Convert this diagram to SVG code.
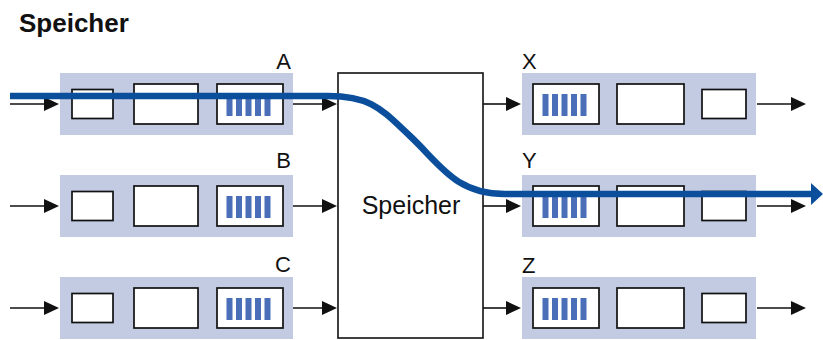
<svg xmlns="http://www.w3.org/2000/svg" xmlns:xlink="http://www.w3.org/1999/xlink" width="823" height="340" viewBox="0 0 823 340">
<style>
.panel{fill:#c3cbe3}
.box{fill:#fff;stroke:#111;stroke-width:1.7}
.stripe{fill:#4a6fb8}
.arr{stroke:#111;stroke-width:1.6;fill:none}
.head{fill:#111}
.lbl{font-family:"Liberation Sans",Arial,sans-serif;font-size:22px;fill:#111}
.mem{fill:#fff;stroke:#111;stroke-width:1.6}
</style>
<defs>
<path id="ah" d="M-15,-7 L0,0 L-15,7 Z"/>
<g id="hbox">
<rect class="box" x="0" y="-20" width="66" height="40"/>
<rect class="stripe" x="9.5" y="-10" width="6" height="22"/>
<rect class="stripe" x="19" y="-10" width="6" height="22"/>
<rect class="stripe" x="28.5" y="-10" width="6" height="22"/>
<rect class="stripe" x="38" y="-10" width="6" height="22"/>
<rect class="stripe" x="47.5" y="-10" width="6" height="22"/>
</g>
</defs>
<rect width="823" height="340" fill="#fff"/>
<text x="19" y="32" font-family="'Liberation Sans',Arial,sans-serif" font-size="26" font-weight="bold" fill="#111">Speicher</text>

<g id="connectors">
<line class="arr" x1="10" y1="104" x2="50" y2="104"/><use xlink:href="#ah" class="head" x="59" y="104"/>
<line class="arr" x1="10" y1="206" x2="50" y2="206"/><use xlink:href="#ah" class="head" x="59" y="206"/>
<line class="arr" x1="10" y1="308" x2="50" y2="308"/><use xlink:href="#ah" class="head" x="59" y="308"/>
<line class="arr" x1="293" y1="104" x2="328" y2="104"/><use xlink:href="#ah" class="head" x="337" y="104"/>
<line class="arr" x1="293" y1="206" x2="328" y2="206"/><use xlink:href="#ah" class="head" x="337" y="206"/>
<line class="arr" x1="293" y1="308" x2="328" y2="308"/><use xlink:href="#ah" class="head" x="337" y="308"/>
<line class="arr" x1="483" y1="104" x2="512" y2="104"/><use xlink:href="#ah" class="head" x="521" y="104"/>
<line class="arr" x1="483" y1="206" x2="512" y2="206"/><use xlink:href="#ah" class="head" x="521" y="206"/>
<line class="arr" x1="483" y1="308" x2="512" y2="308"/><use xlink:href="#ah" class="head" x="521" y="308"/>
<line class="arr" x1="757" y1="104" x2="797" y2="104"/><use xlink:href="#ah" class="head" x="806" y="104"/>
<line class="arr" x1="757" y1="206" x2="797" y2="206"/><use xlink:href="#ah" class="head" x="806" y="206"/>
<line class="arr" x1="757" y1="308" x2="797" y2="308"/><use xlink:href="#ah" class="head" x="806" y="308"/>
</g>

<g id="A">
<rect class="panel" x="60" y="73" width="233" height="62"/>
<rect class="box" x="72" y="89.5" width="41" height="29"/>
<rect class="box" x="134" y="84" width="64" height="40"/>
<use xlink:href="#hbox" x="217" y="104"/>
<text class="lbl" x="291" y="69" text-anchor="end">A</text>
</g>
<g id="B">
<rect class="panel" x="60" y="175" width="233" height="62"/>
<rect class="box" x="72" y="191.5" width="41" height="29"/>
<rect class="box" x="134" y="186" width="64" height="40"/>
<use xlink:href="#hbox" x="217" y="206"/>
<text class="lbl" x="291" y="168" text-anchor="end">B</text>
</g>
<g id="C">
<rect class="panel" x="60" y="277" width="233" height="62"/>
<rect class="box" x="72" y="293.5" width="41" height="29"/>
<rect class="box" x="134" y="288" width="64" height="40"/>
<use xlink:href="#hbox" x="217" y="308"/>
<text class="lbl" x="291" y="272" text-anchor="end">C</text>
</g>

<g id="Speicher">
<rect class="mem" x="338" y="73" width="145" height="265"/>
<text x="411" y="214" text-anchor="middle" font-family="'Liberation Sans',Arial,sans-serif" font-size="25" fill="#111">Speicher</text>
</g>

<g id="X">
<rect class="panel" x="522" y="73" width="234" height="62"/>
<use xlink:href="#hbox" x="533" y="104"/>
<rect class="box" x="617" y="84" width="67" height="40"/>
<rect class="box" x="702" y="89.5" width="44" height="29"/>
<text class="lbl" x="522" y="69">X</text>
</g>
<g id="Y">
<rect class="panel" x="522" y="175" width="234" height="62"/>
<use xlink:href="#hbox" x="533" y="206"/>
<rect class="box" x="617" y="186" width="67" height="40"/>
<rect class="box" x="702" y="191.5" width="44" height="29"/>
<text class="lbl" x="522" y="168">Y</text>
</g>
<g id="Z">
<rect class="panel" x="522" y="277" width="234" height="62"/>
<use xlink:href="#hbox" x="533" y="308"/>
<rect class="box" x="617" y="288" width="67" height="40"/>
<rect class="box" x="702" y="293.5" width="44" height="29"/>
<text class="lbl" x="522" y="273">Z</text>
</g>

<g id="flow">
<path d="M10,96 L328,96 C372,96 382,110 410,136 C440,164 455,194 505,194 L814,194" fill="none" stroke="#0b4f9c" stroke-width="6.5"/>
<path d="M811,183 L823,194 L811,205 Z" fill="#0b4f9c"/>
</g>
</svg>
